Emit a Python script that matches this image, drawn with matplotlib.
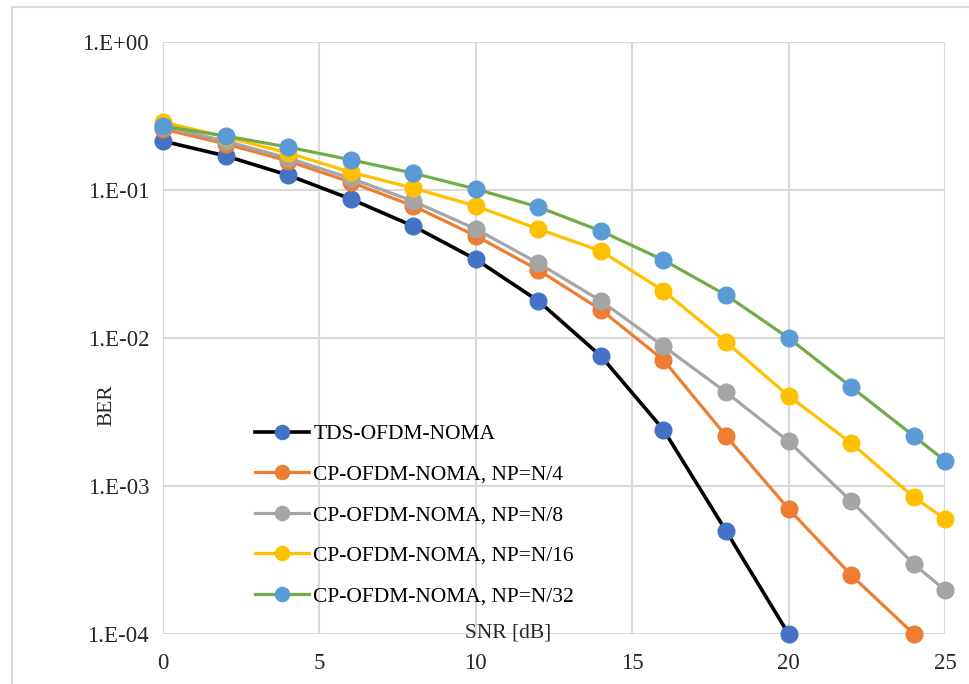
import matplotlib.pyplot as plt
from matplotlib.patches import Rectangle
from matplotlib.ticker import FixedLocator, NullLocator

# BER vs SNR for TDS-OFDM-NOMA and CP-OFDM-NOMA with various pilot spacings
snr_tds = [0, 2, 4, 6, 8, 10, 12, 14, 16, 18, 20]
ber_tds = [0.214, 0.170, 0.126, 0.087, 0.057, 0.034, 0.0178, 0.00755, 0.0024, 0.000497, 0.0001]

snr_n4 = [0, 2, 4, 6, 8, 10, 12, 14, 16, 18, 20, 22, 24]
ber_n4 = [0.258, 0.205, 0.157, 0.113, 0.078, 0.049, 0.0288, 0.0155, 0.0071, 0.00218, 0.0007, 0.00025, 0.0001]

snr_full = [0, 2, 4, 6, 8, 10, 12, 14, 16, 18, 20, 22, 24, 25]
ber_n8 = [0.268, 0.214, 0.164, 0.120, 0.084, 0.0545, 0.032, 0.0178, 0.0088, 0.0043, 0.0020, 0.00079, 0.000297, 0.000198]
ber_n16 = [0.288, 0.228, 0.178, 0.132, 0.103, 0.078, 0.0545, 0.0387, 0.0208, 0.0094, 0.00406, 0.00195, 0.00084, 0.0006]
ber_n32 = [0.27, 0.232, 0.195, 0.160, 0.130, 0.1015, 0.0768, 0.0528, 0.0336, 0.0195, 0.01, 0.00467, 0.00218, 0.00148]

y_ticks = [1e0, 1e-1, 1e-2, 1e-3, 1e-4]
y_tick_labels = ["1.E+00", "1.E-01", "1.E-02", "1.E-03", "1.E-04"]
x_ticks = [0, 5, 10, 15, 20, 25]

series = [
    (snr_tds, ber_tds, "TDS-OFDM-NOMA", "black", "#4472C4", 2.6),
    (snr_n4, ber_n4, "CP-OFDM-NOMA, NP=N/4", "#ED7D31", "#ED7D31", 2.3),
    (snr_full, ber_n8, "CP-OFDM-NOMA, NP=N/8", "#A5A5A5", "#A5A5A5", 2.3),
    (snr_full, ber_n16, "CP-OFDM-NOMA, NP=N/16", "#FFC000", "#FFC000", 2.3),
    (snr_full, ber_n32, "CP-OFDM-NOMA, NP=N/32", "#70AD47", "#5B9BD5", 2.3),
]

plt.rcParams["font.family"] = ["Liberation Serif", "DejaVu Serif"]
fs = 15.5

fig = plt.figure(figsize=(9.7, 6.84), dpi=100)
fig.patches.append(Rectangle((12 / 970, -0.1), 1.2, 1 - 7 / 684 + 0.1,
                             transform=fig.transFigure, fill=False,
                             edgecolor="#D9D9D9", linewidth=1.5))
ax = fig.add_axes([163 / 970, 50 / 684, 782 / 970, 592 / 684])

for x, y, label, lc, mc, lw in series:
    ax.plot(x, y, color=lc, linewidth=lw, marker="o", markersize=12,
            markerfacecolor=mc, markeredgecolor=mc, label=label, clip_on=False)

ax.set_yscale("log")
ax.set_ylim(1e-4, 1)
ax.set_xlim(0, 25)
ax.yaxis.set_major_locator(FixedLocator(y_ticks))
ax.yaxis.set_minor_locator(NullLocator())
ax.set_yticklabels(y_tick_labels)
ax.set_xticks(x_ticks)
ax.tick_params(axis="both", length=0, labelsize=16.5, colors="#262626")
ax.tick_params(axis="y", pad=10)
ax.tick_params(axis="x", pad=14)

ax.grid(True, color="#D9D9D9", linewidth=1.5)
ax.set_axisbelow(True)
for s in ax.spines.values():
    s.set_visible(False)

ax.text(0.441, 0.001, "SNR [dB]", transform=ax.transAxes, ha="center",
        va="center", fontsize=fs, color="#262626")
ax.text(-0.0716, 0.387, "BER", transform=ax.transAxes, rotation=90,
        ha="center", va="center", fontsize=fs, color="#262626")

ax.legend(loc="upper left", bbox_to_anchor=((255 - 163) / 782, (634 - 424) / 592),
          frameon=False, fontsize=fs, borderpad=0, borderaxespad=0,
          handlelength=2.5, handletextpad=0.2, labelspacing=0.95,
          markerscale=0.85)

fig.savefig("out.png", dpi=100)
